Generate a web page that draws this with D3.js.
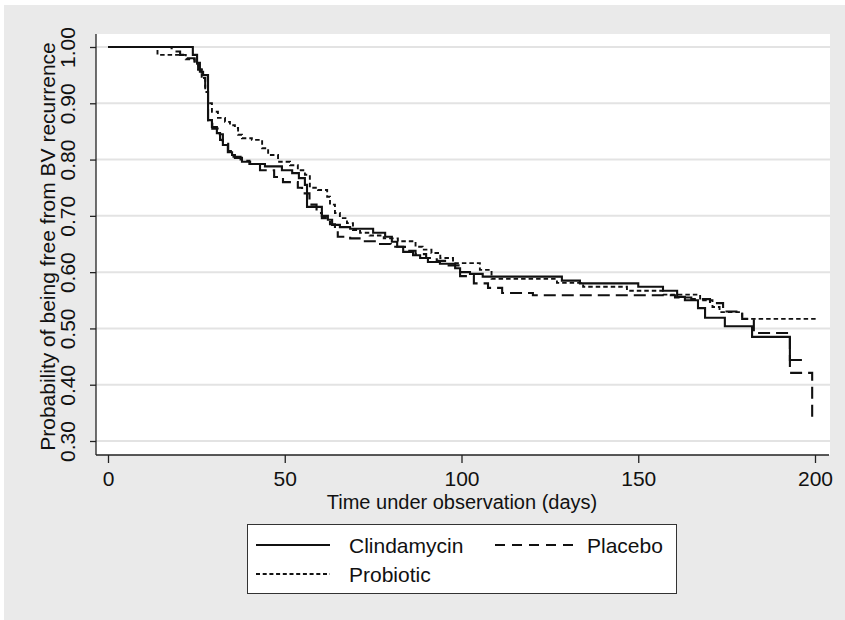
<!DOCTYPE html>
<html><head><meta charset="utf-8">
<script src="https://cdn.jsdelivr.net/npm/d3@7/dist/d3.min.js"></script>
<style>html,body{margin:0;padding:0;background:#fff;}svg{display:block;font-family:"Liberation Sans",Arial,sans-serif;}</style>
</head><body>
<svg id="chart" width="845" height="620"></svg>
<script>
// ---- data ----
const xTicks = [0, 50, 100, 150, 200];
const yTicks = [0.30, 0.40, 0.50, 0.60, 0.70, 0.80, 0.90, 1.00];
const seriesNames = ["Clindamycin", "Placebo", "Probiotic"];

const clindTime = [0, 24.0, 25.2, 26.0, 26.9, 28.3, 29.4, 30.8, 31.7, 32.5, 33.9, 35.1, 35.9, 37.9, 40.2, 44.4, 49.2, 52.1, 54.0, 55.7, 56.3, 60.5, 62.2, 63.4, 65.6, 68.5, 75.0, 78.4, 80.3, 81.8, 83.5, 86.3, 88.3, 90.5, 93.9, 98.2, 99.6, 102.4, 106.0, 128.4, 133.5, 150.0, 157.0, 161.0, 163.2, 166.9, 168.9, 174.5, 182.2, 192.9, 196.3];
const clindSurv = [1.0, 0.986, 0.972, 0.956, 0.950, 0.870, 0.858, 0.847, 0.835, 0.826, 0.813, 0.808, 0.803, 0.796, 0.792, 0.788, 0.781, 0.776, 0.767, 0.755, 0.716, 0.700, 0.693, 0.684, 0.680, 0.677, 0.670, 0.663, 0.654, 0.645, 0.636, 0.630, 0.625, 0.618, 0.615, 0.607, 0.600, 0.597, 0.592, 0.585, 0.580, 0.574, 0.567, 0.556, 0.550, 0.536, 0.519, 0.504, 0.485, 0.444, 0.444];

const placeboTime = [0, 18, 20.4, 22.3, 24.5, 25.5, 26.5, 27.5, 28.3, 29.5, 31, 32.5, 34, 35.5, 37.5, 40, 43, 47, 49.5, 53.7, 54.9, 57, 59, 60.5, 62.8, 64.2, 65, 68.5, 72, 76, 80, 84, 87, 90, 93, 96, 99.6, 103.5, 107.5, 111.5, 120.2, 160.4, 165, 170.3, 174, 179.4, 182.7, 192.9, 199.2];
const placeboSurv = [1.0, 0.992, 0.986, 0.98, 0.972, 0.96, 0.945, 0.925, 0.87, 0.855, 0.845, 0.83, 0.815, 0.805, 0.798, 0.792, 0.781, 0.769, 0.76, 0.75, 0.74, 0.72, 0.705, 0.696, 0.685, 0.678, 0.663, 0.66, 0.655, 0.65, 0.645, 0.638, 0.632, 0.625, 0.62, 0.612, 0.593, 0.58, 0.572, 0.563, 0.559, 0.555, 0.552, 0.545, 0.53, 0.517, 0.492, 0.421, 0.343];

const probTime = [0, 14, 22, 24.5, 25.5, 26.5, 27.5, 28.3, 29.4, 31.1, 33.1, 34.5, 35.9, 36.8, 37.9, 40.7, 43.6, 45.3, 48.1, 51.5, 53.7, 55.7, 57.1, 59.4, 62.0, 62.8, 64.2, 65.6, 67.6, 69.3, 71.3, 74, 78, 82, 87, 89, 91.5, 94, 97.6, 105.2, 108.5, 127, 134.4, 146.8, 157, 167.5, 171, 173, 179.4, 200.5];
const probSurv = [1, 0.986, 0.978, 0.97, 0.96, 0.945, 0.92, 0.90, 0.885, 0.874, 0.867, 0.861, 0.856, 0.844, 0.838, 0.835, 0.82, 0.808, 0.796, 0.79, 0.781, 0.773, 0.75, 0.746, 0.734, 0.72, 0.705, 0.696, 0.687, 0.675, 0.67, 0.665, 0.66, 0.655, 0.645, 0.64, 0.634, 0.625, 0.616, 0.604, 0.588, 0.581, 0.574, 0.567, 0.56, 0.55, 0.538, 0.529, 0.517, 0.517];

// ---- drawing ----
const svg = d3.select("#chart");
svg.append("rect").attr("x", 4).attr("y", 5).attr("width", 841).attr("height", 615).attr("fill", "#eaeaea");

const plot = {left: 96, right: 830, top: 34, bottom: 455};
svg.append("rect").attr("x", plot.left).attr("y", plot.top)
  .attr("width", plot.right - plot.left).attr("height", plot.bottom - plot.top).attr("fill", "#fff");

const x = d3.scaleLinear().domain([0, 200]).range([108, 815]);
const y = d3.scaleLinear().domain([0.3, 1.0]).range([441, 47]);

// gridlines
svg.append("g").selectAll("line").data(yTicks).join("line")
  .attr("x1", plot.left).attr("x2", plot.right)
  .attr("y1", d => y(d)).attr("y2", d => y(d))
  .attr("stroke", "#e3e3e3").attr("stroke-width", 2);

// axes
const yAxis = svg.append("g").attr("transform", `translate(${plot.left},0)`)
  .call(d3.axisLeft(y).tickValues(yTicks).tickFormat(d3.format(".2f")).tickSize(6).tickPadding(4));
yAxis.select(".domain").attr("d", `M0,${plot.top}V${plot.bottom}`).attr("stroke", "#222").attr("stroke-width", 1.3);
yAxis.selectAll(".tick line").attr("stroke", "#222").attr("stroke-width", 1.3);
yAxis.selectAll(".tick text")
  .attr("font-size", 21).attr("fill", "#111")
  .attr("transform", "rotate(-90)")
  .attr("x", 0).attr("y", -21).attr("dy", 0)
  .attr("text-anchor", "middle");

const xAxis = svg.append("g").attr("transform", `translate(0,${plot.bottom})`)
  .call(d3.axisBottom(x).tickValues(xTicks).tickFormat(d3.format("d")).tickSize(8).tickPadding(4));
xAxis.select(".domain").attr("d", `M${plot.left},0H${plot.right - 1}`).attr("stroke", "#222").attr("stroke-width", 1.3);
xAxis.selectAll(".tick line").attr("stroke", "#222").attr("stroke-width", 1.3);
xAxis.selectAll(".tick text").attr("font-size", 21).attr("fill", "#111").attr("y", 31).attr("dy", 0);

// axis titles
svg.append("text").attr("x", 462).attr("y", 509).attr("text-anchor", "middle")
  .attr("font-size", 20).attr("fill", "#111").text("Time under observation (days)");
svg.append("text").attr("transform", `translate(55,${(plot.top + plot.bottom) / 2 + 2}) rotate(-90)`)
  .attr("text-anchor", "middle").attr("font-size", 21).attr("fill", "#111")
  .text("Probability of being free from BV recurrence");

// curves
const line = d3.line().x(d => x(d[0])).y(d => y(d[1])).curve(d3.curveStepAfter);
const series = [
  {name: seriesNames[0], t: clindTime, s: clindSurv, dash: null, w: 2.1},
  {name: seriesNames[1], t: placeboTime, s: placeboSurv, dash: "12,6", w: 2.1},
  {name: seriesNames[2], t: probTime, s: probSurv, dash: "4.5,3", w: 1.9}
];
svg.append("g").selectAll("path").data(series).join("path")
  .attr("d", d => line(d.t.map((t, i) => [t, d.s[i]])))
  .attr("fill", "none").attr("stroke", "#111")
  .attr("stroke-width", d => d.w)
  .attr("stroke-dasharray", d => d.dash);

// legend
const lg = svg.append("g");
lg.append("rect").attr("x", 247.5).attr("y", 524.5).attr("width", 429).attr("height", 69)
  .attr("fill", "#fff").attr("stroke", "#333").attr("stroke-width", 1);
const legendItems = [
  {name: seriesNames[0], x1: 256, x2: 330, ly: 545, tx: 349, ty: 553, dash: null, w: 2},
  {name: seriesNames[1], x1: 495, x2: 574, ly: 545, tx: 587, ty: 553, dash: "10,7", w: 2},
  {name: seriesNames[2], x1: 256, x2: 330, ly: 574, tx: 349, ty: 582, dash: "4,2.7", w: 1.8}
];
lg.selectAll("line").data(legendItems).join("line")
  .attr("x1", d => d.x1).attr("x2", d => d.x2).attr("y1", d => d.ly).attr("y2", d => d.ly)
  .attr("stroke", "#111").attr("stroke-width", d => d.w).attr("stroke-dasharray", d => d.dash);
lg.selectAll("text").data(legendItems).join("text")
  .attr("x", d => d.tx).attr("y", d => d.ty).attr("font-size", 21).attr("fill", "#111")
  .text(d => d.name);
</script>
</body></html>
